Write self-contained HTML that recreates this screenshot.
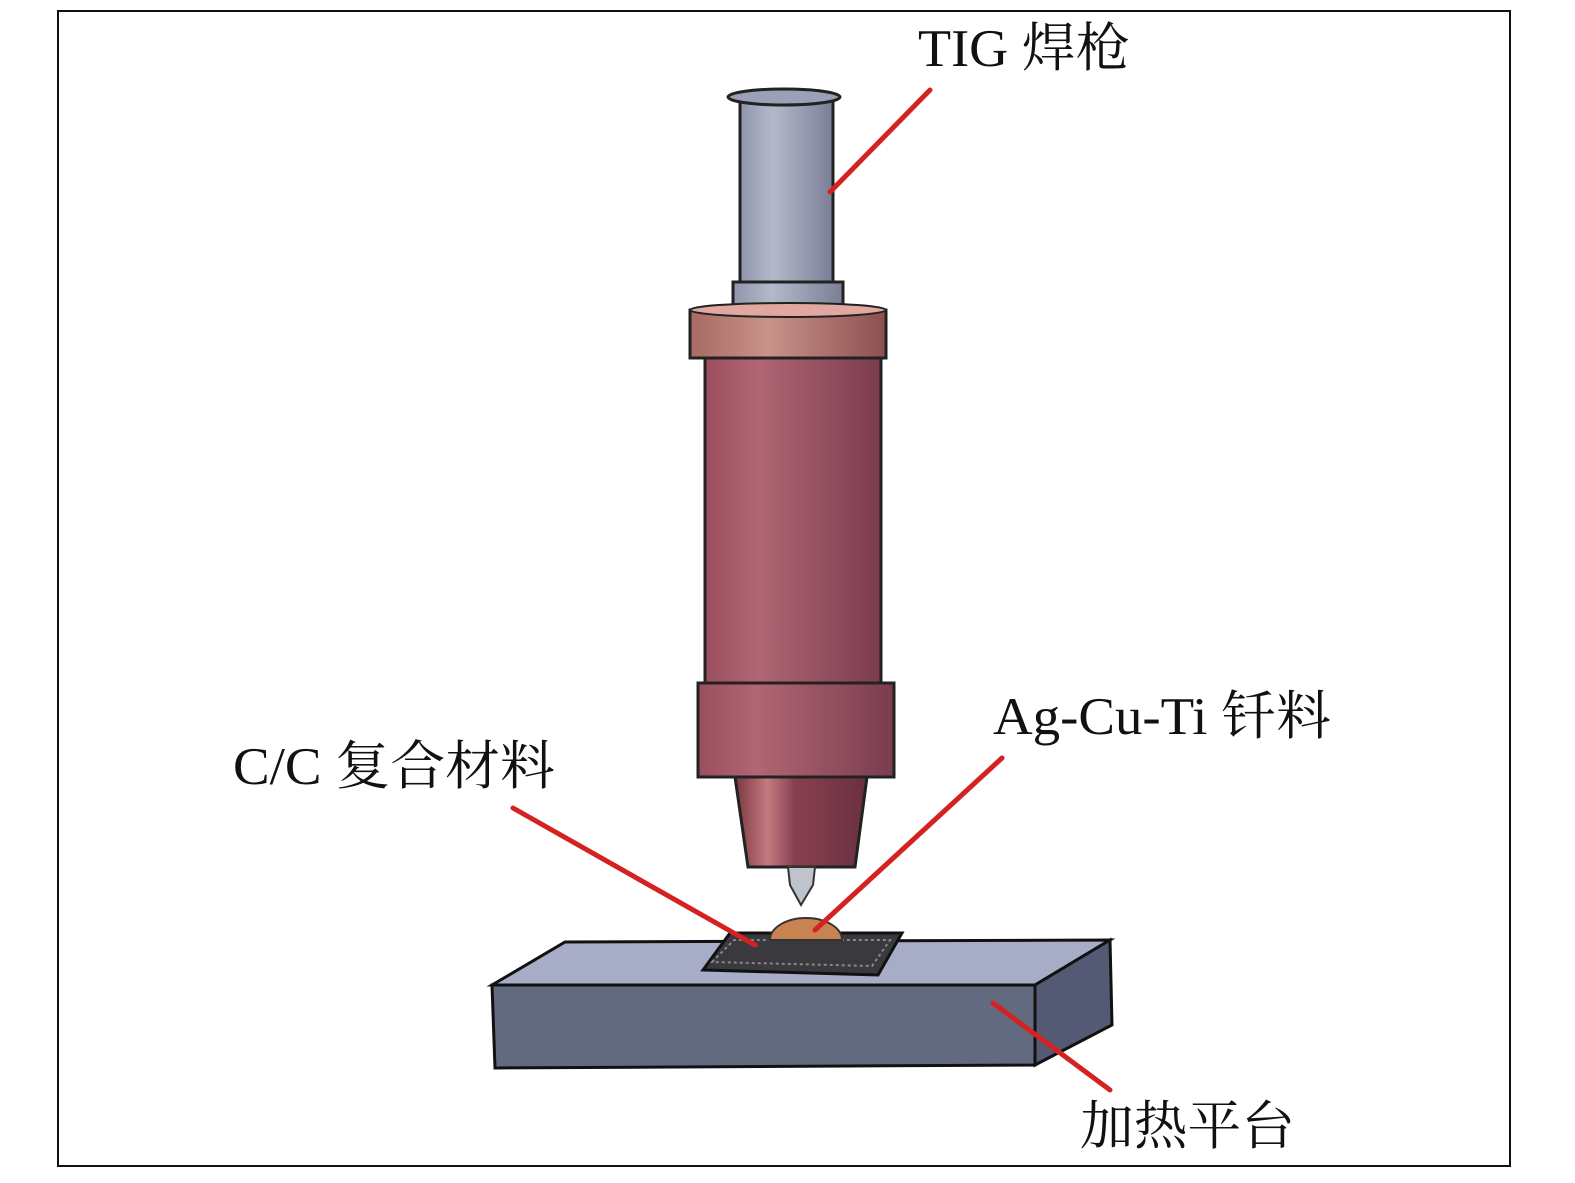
<!DOCTYPE html>
<html><head><meta charset="utf-8"><style>
html,body{margin:0;padding:0;background:#fff;}
svg{display:block;}
text{font-family:"Liberation Serif","Noto Serif CJK SC",serif;font-size:53px;fill:#111;}
</style></head><body>
<svg width="1575" height="1183" viewBox="0 0 1575 1183" xmlns="http://www.w3.org/2000/svg">
<defs>
<linearGradient id="gray" x1="0" x2="1">
<stop offset="0" stop-color="#8f95aa"/><stop offset="0.35" stop-color="#b4b9ca"/><stop offset="1" stop-color="#7a7f96"/>
</linearGradient>
<linearGradient id="body" x1="0" x2="1">
<stop offset="0" stop-color="#9a4e5e"/><stop offset="0.3" stop-color="#b06674"/><stop offset="1" stop-color="#7a3c4e"/>
</linearGradient>
<linearGradient id="ring" x1="0" x2="1">
<stop offset="0" stop-color="#a86a62"/><stop offset="0.4" stop-color="#c9928a"/><stop offset="1" stop-color="#8c5050"/>
</linearGradient>
<linearGradient id="cone" x1="0" x2="1">
<stop offset="0" stop-color="#7a3840"/><stop offset="0.25" stop-color="#c57a80"/><stop offset="0.45" stop-color="#884050"/><stop offset="1" stop-color="#6a3040"/>
</linearGradient>
</defs>
<rect x="58" y="11" width="1452" height="1155" fill="#fff" stroke="#111" stroke-width="2"/>
<polygon points="492,985 565,942 1110,940 1035,985" fill="#a7adc6" stroke="#111" stroke-width="3"/>
<polygon points="492,985 1035,985 1035,1065 495,1068" fill="#626a80" stroke="#111" stroke-width="3"/>
<polygon points="1035,985 1110,940 1112,1025 1035,1065" fill="#555a74" stroke="#111" stroke-width="3"/>
<polygon points="703,970 730,933 902,933 878,975" fill="#3a3a3e" stroke="#111" stroke-width="3"/>
<polygon points="712,962 734,940 890,940 872,966" fill="none" stroke="#888" stroke-width="2" stroke-dasharray="3 3"/>
<path d="M770,940 A36,22 0 0 1 842,940 Z" fill="#c98350" stroke="#333" stroke-width="2"/>
<rect x="740" y="100" width="93" height="190" fill="url(#gray)" stroke="#222" stroke-width="3"/>
<ellipse cx="784" cy="97" rx="56" ry="8" fill="#9aa0b5" stroke="#222" stroke-width="3"/>
<rect x="733" y="282" width="110" height="30" fill="url(#gray)" stroke="#222" stroke-width="3"/>
<rect x="690" y="310" width="196" height="48" fill="url(#ring)" stroke="#222" stroke-width="3"/>
<ellipse cx="788" cy="310" rx="98" ry="7" fill="#e0a8a0" stroke="#222" stroke-width="2"/>
<rect x="705" y="358" width="176" height="325" fill="url(#body)" stroke="#222" stroke-width="3"/>
<rect x="698" y="683" width="196" height="94" fill="url(#body)" stroke="#222" stroke-width="3"/>
<polygon points="735,777 867,777 855,867 748,867" fill="url(#cone)" stroke="#222" stroke-width="3"/>
<path d="M788,867 L815,867 L813,885 L801,905 L790,885 Z" fill="#bfc3cc" stroke="#333" stroke-width="2"/>
<g stroke="#d42222" stroke-width="5" stroke-linecap="round">
<line x1="930" y1="90" x2="830" y2="192"/>
<line x1="513" y1="808" x2="755" y2="945"/>
<line x1="1002" y1="758" x2="815" y2="930"/>
<line x1="993" y1="1003" x2="1110" y2="1090"/>
</g>
<text x="918" y="66" textLength="212" lengthAdjust="spacingAndGlyphs">TIG 焊枪</text>
<text x="233" y="784" textLength="322" lengthAdjust="spacingAndGlyphs">C/C 复合材料</text>
<text x="993" y="734" textLength="338" lengthAdjust="spacingAndGlyphs">Ag-Cu-Ti 钎料</text>
<text x="1080" y="1144" textLength="215" lengthAdjust="spacingAndGlyphs">加热平台</text>
</svg>
</body></html>
